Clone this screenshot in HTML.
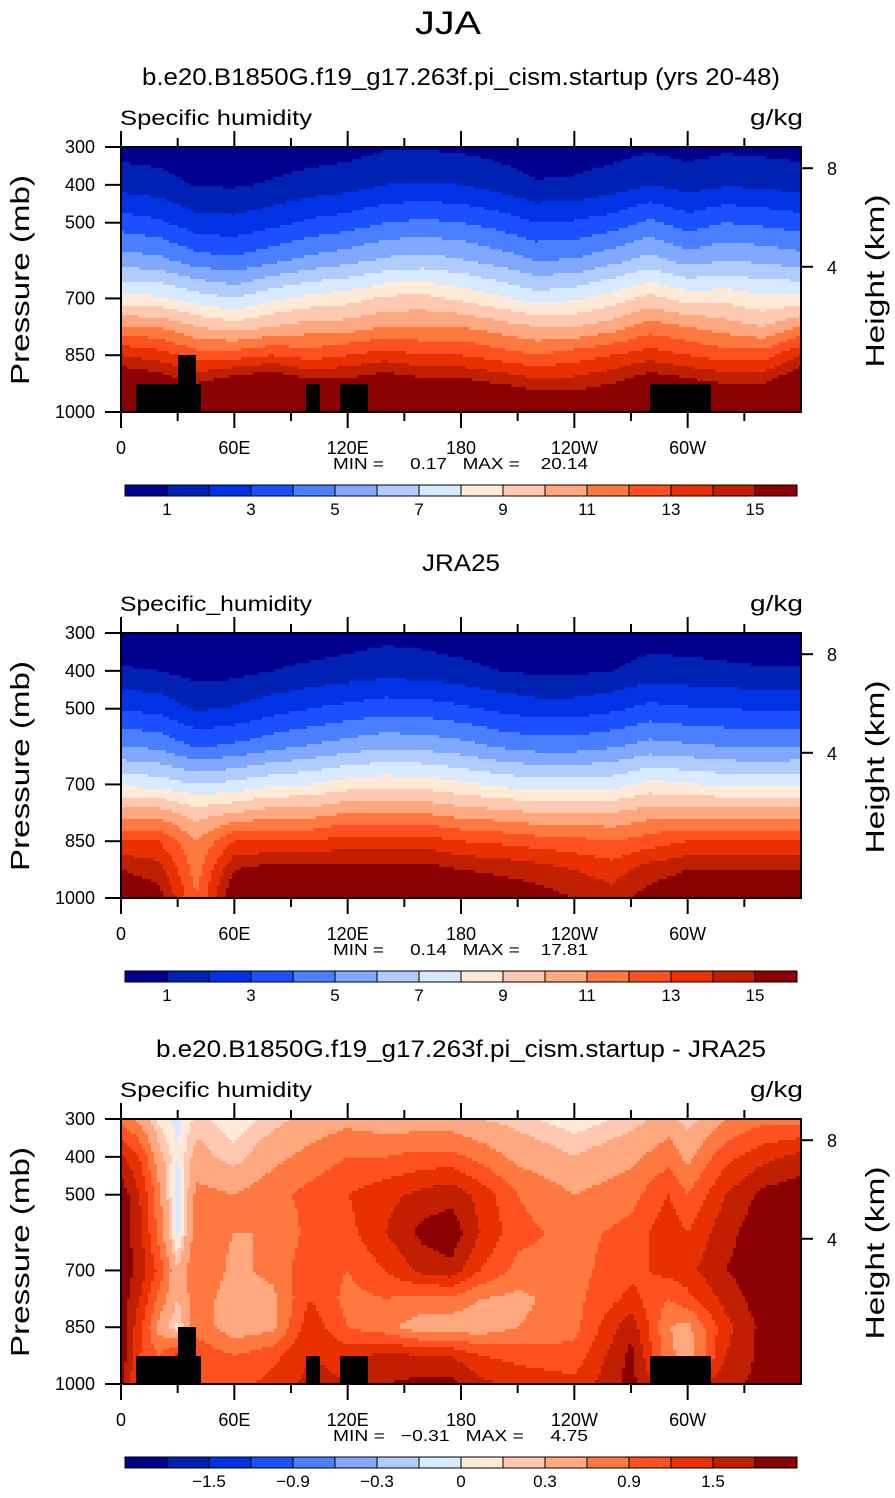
<!DOCTYPE html>
<html><head><meta charset="utf-8">
<style>
body{margin:0;background:#fff;}
svg text{font-family:"Liberation Sans",sans-serif;fill:#000;white-space:pre;}
</style></head>
<body>
<svg id="fig" xmlns="http://www.w3.org/2000/svg" width="895" height="1493" viewBox="0 0 895 1493">
<text x="448" y="34" font-size="32" text-anchor="middle" textLength="66" lengthAdjust="spacingAndGlyphs">JJA</text>
</svg>
<script>
// ---------- data ----------
const pressureLevels=[300,400,500,600,700,775,850,925,1000];
const lonsA=[0,20,40,60,80,100,120,140,160,180,200,220,240,260,280,300,320,340,360];
const modelValues=[
[0.6,1.6,3.5,5.5,8.3,11,14,16.5,18],
[0.5,1.4,3.2,5.3,8.2,11,13.5,16,18],
[0.3,0.9,2.4,4.5,7.5,10,12.5,15,18],
[0.3,0.9,2.3,4.2,7,9.5,12.5,16,18],
[0.4,1.1,2.7,4.8,7.8,10,13,16.5,18],
[0.5,1.4,3.2,5.3,8.3,10.5,12.5,15.5,18],
[0.6,1.6,3.5,5.7,8.6,10.5,13,15.5,18],
[0.9,2,4,6.2,9.2,11,13.5,16,18],
[0.9,2.1,4.2,6.4,9.3,11,13,15.5,18],
[0.8,2,4,6.1,8.8,11,13,15.5,18],
[0.6,1.6,3.6,5.6,8.2,10.5,12.5,15,17.5],
[0.4,1.1,3,5,7.5,10,12,14.5,16.5],
[0.4,1.2,3.1,5.1,7.8,10,12.5,14.5,16.5],
[0.6,1.5,3.5,5.7,8.5,10.5,13,15,17],
[0.8,2,4.2,6.4,9.3,11.5,13.5,16,18],
[0.6,1.6,3.5,5.6,8.6,11,13,15.5,18],
[0.8,1.9,4,6,8.7,10.5,12.5,15,17],
[0.7,1.8,3.8,5.8,8.2,10,12.5,15,17],
[0.6,1.6,3.5,5.5,8.3,11,14,16.5,18]];
const jraValues=[
[0.3,1.1,2.9,5,7.8,10.5,13,15,16],
[0.3,1,2.7,4.8,7.6,10.5,13,14.5,15.5],
[0.2,0.6,1.9,3.9,7,9.5,11,11.5,12],
[0.2,0.7,2.1,4.2,7.3,10,13,15,16],
[0.3,1,2.6,4.7,7.8,10.5,13,15.5,16.5],
[0.4,1.2,3,5.1,8,10.5,13,15.5,16.5],
[0.5,1.4,3.3,5.5,8.5,11,13.5,15.5,16.5],
[0.7,1.6,3.6,5.8,8.7,11,13.5,15.5,16.5],
[0.6,1.5,3.5,5.7,8.6,11,13.5,15.5,16.5],
[0.4,1.3,3.2,5.4,8.2,10.5,13,15,16],
[0.3,1,2.8,4.9,7.8,10.3,12.8,14.8,15.8],
[0.2,0.8,2.5,4.6,7.5,10,12.5,14.5,15.5],
[0.2,0.8,2.5,4.6,7.5,10,12.3,14,15],
[0.3,1,2.8,4.9,7.6,10,12,13.5,14.5],
[0.5,1.4,3.3,5.4,8.3,10.5,12.5,14.5,15.5],
[0.5,1.3,3.1,5.2,8.1,10.5,13,15,16],
[0.4,1.2,3,5,7.8,10.5,13,15,16],
[0.3,1.1,2.9,4.9,7.7,10.5,13,15,16],
[0.3,1.1,2.9,5,7.8,10.5,13,15,16]];
const lonsDiff=[0,10,20,30,40,60,80,100,120,140,160,175,190,210,240,270,290,300,320,340,360];
const diffValues=[
[0.8,1.6,2.0,2.0,2.0,2.0,2.0,2.0,2.0],
[0.5,1.2,1.5,1.6,1.7,1.5,1.3,1.2,1.0],
[0.1,0.4,0.7,0.8,1.1,0.8,0.5,0.9,1.1],
[-0.05,0.0,-0.2,-0.1,0.3,0.3,0.1,1.3,1.5],
[0.2,0.4,0.7,0.8,0.9,0.8,0.8,1.1,1.2],
[0.05,0.2,0.6,0.6,0.5,0.4,0.4,0.9,1.1],
[0.2,0.5,0.8,0.6,0.7,0.5,0.5,1.1,1.3],
[0.4,0.7,1.0,1.0,1.1,1.2,1.4,1.5,1.6],
[0.5,0.9,1.2,1.1,0.9,0.8,0.9,1.4,1.5],
[0.4,0.9,1.4,1.5,1.2,0.9,0.7,1.6,1.8],
[0.4,1.0,1.6,1.9,1.6,0.8,0.4,1.5,1.9],
[0.4,1.0,1.7,2.0,1.7,0.8,0.4,1.5,1.9],
[0.3,0.8,1.4,1.5,1.2,0.6,0.4,1.2,1.6],
[0.2,0.5,0.9,1.0,0.8,0.5,0.6,1.1,1.4],
[0.05,0.3,0.6,0.8,0.8,0.8,0.8,1.0,1.3],
[0.2,0.5,0.8,1.0,1.1,1.3,1.7,1.9,1.9],
[0.4,0.8,1.2,1.4,1.3,0.9,0.6,0.7,1.2],
[0.2,0.5,0.9,1.2,1.4,1.1,0.5,0.4,1.4],
[0.6,1.1,1.5,1.7,1.8,1.6,1.4,1.5,1.7],
[0.8,1.4,1.9,2.0,2.0,2.0,1.9,1.9,1.9],
[0.8,1.6,2.0,2.0,2.0,2.0,2.0,2.0,2.0]];
const absLevels=[1,2,3,4,5,6,7,8,9,10,11,12,13,14,15];
const absTickLabels=["1","3","5","7","9","11","13","15"];
const diffLevels=[-1.8,-1.5,-1.2,-0.9,-0.6,-0.3,-0.15,0,0.15,0.3,0.6,0.9,1.2,1.5,1.8];
const diffTickLabels=["-1.5","-0.9","-0.3","0","0.3","0.9","1.5"];
const pTicks=[300,400,500,700,850,1000];
const hTicks=[8,4];
const lonTickVals=[0,60,120,180,240,300];
const lonTickLabels=["0","60E","120E","180","120W","60W"];
const colors=["#00008c","#0022b4","#0033e6","#1a50ff","#4a80ff","#80a8ff","#b0ccff","#d8eaff","#ffead8","#ffc8b0","#ffa880","#ff7840","#ff5020","#e83000","#c02000","#8b0000"];

// ---------- drawing ----------
const NS="http://www.w3.org/2000/svg";
const svg=document.getElementById('fig');
function mk(tag,attrs,parent){const e=document.createElementNS(NS,tag);for(const k in attrs)e.setAttribute(k,attrs[k]);(parent||svg).appendChild(e);return e;}
const X0=121,X1=801,PH=265;
function xScale(lon){return X0+lon/360*(X1-X0);}
function yScale(p,top){return top+(p-300)/700*PH;}
function pFromY(y,top){return 300+(y-top)/PH*700;}
function hToY(h,top){const p=1013.25*Math.pow(1-2.25577e-5*h*1000,5.25588);return yScale(p,top);}
function sample(lons,vals,lon,p){
  let i=0;while(i<lons.length-2&&lon>lons[i+1])i++;
  const tx=(lon-lons[i])/(lons[i+1]-lons[i]);
  let j=0;while(j<pressureLevels.length-2&&p>pressureLevels[j+1])j++;
  const ty=(p-pressureLevels[j])/(pressureLevels[j+1]-pressureLevels[j]);
  const a=vals[i][j]*(1-ty)+vals[i][j+1]*ty, b=vals[i+1][j]*(1-ty)+vals[i+1][j+1]*ty;
  return a*(1-tx)+b*tx;}
function colorIdx(v,levels){let k=0;while(k<levels.length&&v>=levels[k])k++;return k;}

function panel(top,title,titleW,varName,lons,vals,levels,tickLabels,tickBoxes,minmax,topo,name){
  const g=mk('g',{},svg);
  
  
  const t=mk('text',{x:461,y:top-62,'font-size':24,'text-anchor':'middle',textLength:titleW,lengthAdjust:'spacingAndGlyphs'},g);t.textContent=title;
  
  const vn=mk('text',{x:120,y:top-22,'font-size':21,textLength:192,lengthAdjust:'spacingAndGlyphs'},g);vn.textContent=varName;
  
  const un=mk('text',{x:750,y:top-22,'font-size':22,textLength:53,lengthAdjust:'spacingAndGlyphs'},g);un.textContent='g/kg';
  
  const fg=mk('g',{'shape-rendering':'crispEdges'},g);
  
  const cs=3;
  for(let y=top;y<top+PH;y+=cs){
    const p=pFromY(y+cs/2,top);let runStart=X0,runC=-1;
    for(let x=X0;;x+=cs){
      const end=x>=X1;
      let c=-1;
      if(!end){const lon=Math.min((x+cs/2-X0)/(X1-X0)*360,360);c=colorIdx(sample(lons,vals,lon,p),levels);}
      if(c!==runC||end){
        if(runC>=0){const r=mk('rect',{x:runStart,y:y,width:Math.min(x,X1)-runStart+0.5,height:Math.min(cs,top+PH-y)+0.5,fill:colors[runC]},fg);
          }
        runStart=x;runC=c;}
      if(end)break;
    }
  }
  topo.forEach(b=>{const r=mk('rect',{x:X0+b[0],y:top+b[1],width:b[2],height:b[3],fill:'#000'},g);
    });
  const fr=mk('rect',{x:X0,y:top,width:X1-X0,height:PH,fill:'none',stroke:'#000','stroke-width':2},g);
  
  pTicks.forEach(p=>{const y=yScale(p,top);
    mk('line',{x1:X0-16,x2:X0,y1:y,y2:y,stroke:'#000','stroke-width':2},g);
    const l=mk('text',{x:95,y:y+6,'font-size':18,'text-anchor':'end'},g);l.textContent=p;
    });
  hTicks.forEach(h=>{const y=hToY(h,top);
    mk('line',{x1:X1,x2:X1+12,y1:y,y2:y,stroke:'#000','stroke-width':2},g);
    const l=mk('text',{x:827,y:y+7,'font-size':18},g);l.textContent=h;
    });
  for(let lon=0;lon<360;lon+=30){const x=xScale(lon);const major=lon%60===0;const len=major?16:9;
    mk('line',{x1:x,x2:x,y1:top,y2:top-len,stroke:'#000','stroke-width':2},g);
    mk('line',{x1:x,x2:x,y1:top+PH,y2:top+PH+len,stroke:'#000','stroke-width':2},g);}
  lonTickVals.forEach((lon,i)=>{const l=mk('text',{x:xScale(lon),y:top+PH+42,'font-size':18,'text-anchor':'middle'},g);l.textContent=lonTickLabels[i];
    });
  const mm=mk('text',{x:333,y:top+PH+57,'font-size':16,textLength:255,lengthAdjust:'spacingAndGlyphs'},g);mm.textContent=minmax;
  
  const ya=mk('text',{x:0,y:0,'font-size':26,'text-anchor':'middle',transform:`translate(29,${top+133}) rotate(-90)`,textLength:210,lengthAdjust:'spacingAndGlyphs'},g);ya.textContent='Pressure (mb)';
  
  const yb=mk('text',{x:0,y:0,'font-size':26,'text-anchor':'middle',transform:`translate(884,${top+134}) rotate(-90)`,textLength:173,lengthAdjust:'spacingAndGlyphs'},g);yb.textContent='Height (km)';
  
  const cb=mk('g',{},g);
  const cy=top+338,bw=42;
  colors.forEach((c,k)=>{const r=mk('rect',{x:125+k*bw,y:cy,width:bw,height:11,fill:c,stroke:'#000','stroke-width':1},cb);
    });
  tickLabels.forEach((s,i)=>{const l=mk('text',{x:125+bw*tickBoxes[i],y:cy+30,'font-size':17,'text-anchor':'middle'},cb);
    l.textContent=s.replace('-','\u2212');
    });
}
const topoBoxes=[[15,237,65,28],[57,208,18,29],[185,237,14,28],[219,237,28,28],[529,237,61,28]];
panel(147,'b.e20.B1850G.f19_g17.263f.pi_cism.startup (yrs 20-48)',638,'Specific humidity',lonsA,modelValues,absLevels,absTickLabels,[1,3,5,7,9,11,13,15],'MIN =     0.17   MAX =    20.14',topoBoxes,'model-panel');
panel(633,'JRA25',78,'Specific_humidity',lonsA,jraValues,absLevels,absTickLabels,[1,3,5,7,9,11,13,15],'MIN =     0.14   MAX =    17.81',[],'jra-panel');
panel(1119,'b.e20.B1850G.f19_g17.263f.pi_cism.startup - JRA25',610,'Specific humidity',lonsDiff,diffValues,diffLevels,diffTickLabels,[2,4,6,8,10,12,14],'MIN =   \u22120.31   MAX =     4.75',topoBoxes,'difference-panel');
</script>
</body></html>
